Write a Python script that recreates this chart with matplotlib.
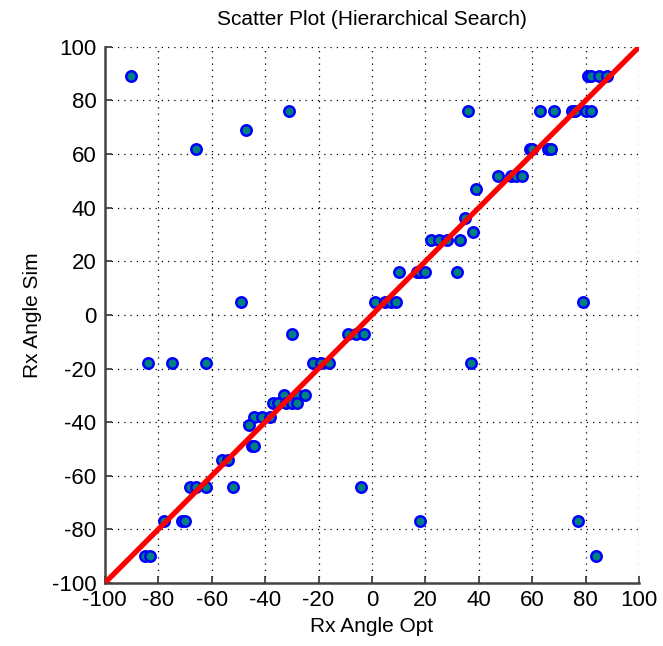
import matplotlib
matplotlib.use("Agg")
import matplotlib.pyplot as plt

# Rx angle: optimum vs simulated
opt = [-90, -31, -47, -66, -49,
       81, 82, 85, 88,
       36, 63, 68, 75, 76, 80, 82,
       59, 60, 66, 67,
       47, 52, 54, 56,
       39, 35, 38,
       22, 25, 28, 33,
       10, 17, 18, 20, 32,
       1, 5, 7, 9, 79,
       -30, -9, -6, -3,
       -84, -75, -62, -22, -19, -16, 37,
       -33, -28, -25,
       -37, -35, -32, -30, -28,
       -44, -41, -38,
       -46, -45, -44,
       -56, -54,
       -68, -66, -62, -52, -4,
       -78, -71, -70, 18, 77,
       -85, -83, 84]
sim = [89, 76, 69, 62, 5,
       89, 89, 89, 89,
       76, 76, 76, 76, 76, 76, 76,
       62, 62, 62, 62,
       52, 52, 52, 52,
       47, 36, 31,
       28, 28, 28, 28,
       16, 16, 16, 16, 16,
       5, 5, 5, 5, 5,
       -7, -7, -7, -7,
       -18, -18, -18, -18, -18, -18, -18,
       -30, -30, -30,
       -33, -33, -33, -33, -33,
       -38, -38, -38,
       -41, -49, -49,
       -54, -54,
       -64, -64, -64, -64, -64,
       -77, -77, -77, -77, -77,
       -90, -90, -90]

plt.rcParams['font.family'] = ['Liberation Sans', 'DejaVu Sans']
plt.rcParams['axes.unicode_minus'] = False

fig = plt.figure(figsize=(6.63, 6.46), dpi=100)
ax = fig.add_axes([0.158, 0.0975, 0.806, 0.83])

ax.plot(opt, sim, 'o', ls='none', ms=7.5, mfc='#00807f', mec='#0000ff', mew=1.8, zorder=3)
ax.plot([-100, 100], [-100, 100], color='#ff0000', lw=3.8, zorder=4, solid_capstyle='butt')

ax.set_xlim(-100, 100)
ax.set_ylim(-100, 100)
ticks = list(range(-100, 101, 20))
ax.set_xticks(ticks)
ax.set_yticks(ticks)
ax.grid(True, color='black', ls=(0, (1, 4)), lw=0.9)
ax.set_axisbelow(True)

for s in ['top', 'right']:
    ax.spines[s].set_visible(False)
for s in ['left', 'bottom']:
    ax.spines[s].set_color('#444444')
    ax.spines[s].set_linewidth(1.8)

ax.tick_params(direction='in', length=5, width=1.2, color='#333333', labelsize=16)
ax.tick_params(axis='x', pad=5)
ax.tick_params(axis='y', pad=6)

ax.set_title('Scatter Plot (Hierarchical Search)', fontsize=15, pad=16)
ax.set_xlabel('Rx Angle Opt', fontsize=15, labelpad=4)
ax.set_ylabel('Rx Angle Sim', fontsize=15, labelpad=7)

fig.savefig('out.png', dpi=100)
